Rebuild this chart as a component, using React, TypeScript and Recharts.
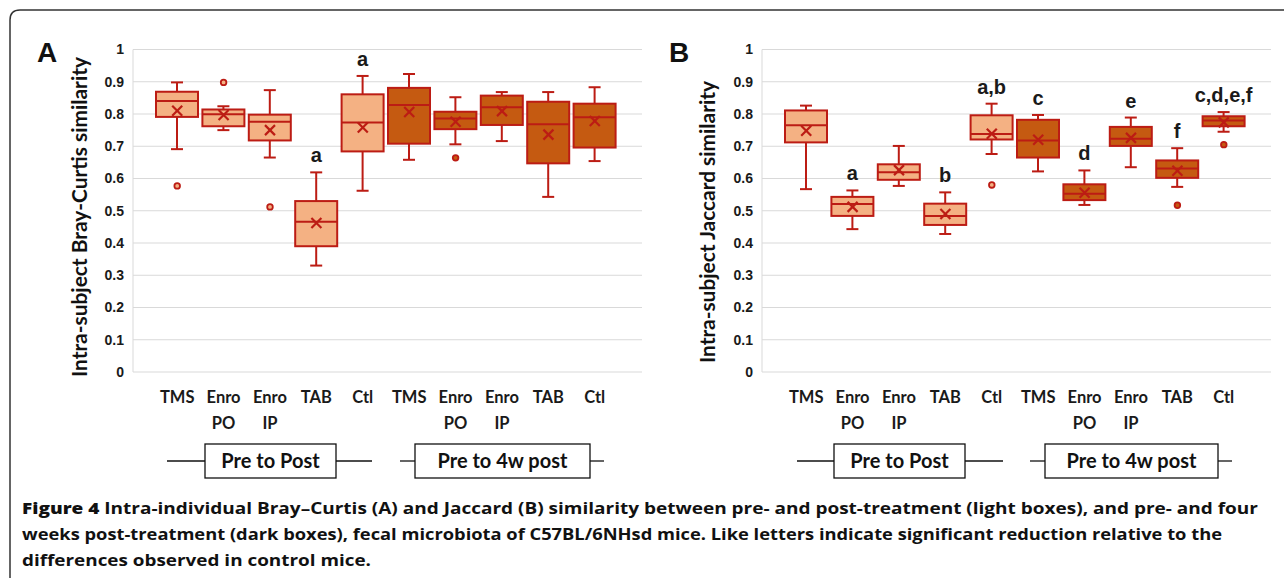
import { Bar, CartesianGrid, ComposedChart, Scatter, XAxis, YAxis } from 'recharts';

const categories = ['TMS', 'Enro PO', 'Enro IP', 'TAB', 'Ctl', 'TMS', 'Enro PO', 'Enro IP', 'TAB', 'Ctl'];
const yTicks = [0, 0.1, 0.2, 0.3, 0.4, 0.5, 0.6, 0.7, 0.8, 0.9, 1];

// A: Bray-Curtis (first five = pre to post, last five = pre to 4w post)
const bcMin = [0.691, 0.75, 0.665, 0.33, 0.562, 0.658, 0.706, 0.716, 0.543, 0.654];
const bcQ1 = [0.791, 0.762, 0.718, 0.39, 0.684, 0.708, 0.753, 0.766, 0.647, 0.696];
const bcMedian = [0.84, 0.799, 0.776, 0.466, 0.774, 0.828, 0.786, 0.821, 0.768, 0.79];
const bcQ3 = [0.869, 0.814, 0.798, 0.53, 0.861, 0.881, 0.807, 0.857, 0.838, 0.832];
const bcMax = [0.898, 0.824, 0.874, 0.619, 0.918, 0.924, 0.852, 0.868, 0.868, 0.883];
const bcMean = [0.81, 0.797, 0.75, 0.462, 0.758, 0.806, 0.776, 0.809, 0.736, 0.778];
const bcOutlier = [0.577, 0.898, 0.512, null, null, null, 0.664, null, null, null];
const bcLetters = ['', '', '', 'a', 'a', '', '', '', '', ''];

// B: Jaccard
const jcMin = [0.567, 0.443, 0.577, 0.428, 0.676, 0.622, 0.518, 0.635, 0.574, 0.745];
const jcQ1 = [0.712, 0.484, 0.596, 0.456, 0.721, 0.665, 0.533, 0.701, 0.602, 0.762];
const jcMedian = [0.765, 0.521, 0.619, 0.484, 0.738, 0.718, 0.553, 0.723, 0.631, 0.78];
const jcQ3 = [0.811, 0.543, 0.644, 0.522, 0.796, 0.782, 0.582, 0.76, 0.656, 0.793];
const jcMax = [0.826, 0.563, 0.701, 0.557, 0.832, 0.797, 0.625, 0.789, 0.694, 0.806];
const jcMean = [0.748, 0.512, 0.626, 0.49, 0.739, 0.72, 0.556, 0.726, 0.624, 0.774];
const jcOutlier = [null, null, null, null, 0.58, null, null, null, 0.517, 0.705];
const jcLetters = ['', 'a', '', 'b', 'a,b', 'c', 'd', 'e', 'f', 'c,d,e,f'];

const captionLines = [
  'Intra-individual Bray–Curtis (A) and Jaccard (B) similarity between pre- and post-treatment (light boxes), and pre- and four',
  'weeks post-treatment (dark boxes), fecal microbiota of C57BL/6NHsd mice. Like letters indicate significant reduction relative to the',
  'differences observed in control mice.',
];

const STROKE = '#BC1C14';
const LIGHT = '#F4B183';
const DARK = '#C55A11';

const buildRows = (
  min: number[], q1: number[], med: number[], q3: number[], max: number[],
  mean: number[], outlier: (number | null)[], letters: string[],
) =>
  categories.map((name, i) => ({
    key: `c${i}`,
    name,
    range: [min[i], max[i]],
    q1: q1[i],
    median: med[i],
    q3: q3[i],
    mean: mean[i],
    outlier: outlier[i],
    letter: letters[i],
    dark: i >= 5,
  }));

const bcData = buildRows(bcMin, bcQ1, bcMedian, bcQ3, bcMax, bcMean, bcOutlier, bcLetters);
const jcData = buildRows(jcMin, jcQ1, jcMedian, jcQ3, jcMax, jcMean, jcOutlier, jcLetters);

// box, whiskers and median are drawn from the range bar's own pixel extent
const BoxShape = (props: any) => {
  const { x, y, width, height, payload } = props;
  if (!payload) return null;
  const top = Math.min(y, y + height);
  const bottom = Math.max(y, y + height);
  const [lo, hi] = payload.range;
  const toPx = (v: number) => bottom - ((v - lo) / (hi - lo)) * (bottom - top);
  const cx = x + width / 2;
  const yq1 = toPx(payload.q1);
  const yq3 = toPx(payload.q3);
  const ymed = toPx(payload.median);
  return (
    <g>
      <line x1={cx} x2={cx} y1={top} y2={yq3} stroke={STROKE} strokeWidth={2} />
      <line x1={cx} x2={cx} y1={yq1} y2={bottom} stroke={STROKE} strokeWidth={2} />
      <line x1={cx - 6} x2={cx + 6} y1={top} y2={top} stroke={STROKE} strokeWidth={2} />
      <line x1={cx - 6} x2={cx + 6} y1={bottom} y2={bottom} stroke={STROKE} strokeWidth={2} />
      <rect
        x={x}
        y={yq3}
        width={width}
        height={yq1 - yq3}
        fill={payload.dark ? DARK : LIGHT}
        stroke={STROKE}
        strokeWidth={2}
      />
      <line x1={x} x2={x + width} y1={ymed} y2={ymed} stroke={STROKE} strokeWidth={2} />
      {payload.letter && (
        <text
          x={cx}
          y={top - 10}
          textAnchor="middle"
          fontFamily="Liberation Sans, Arial, sans-serif"
          fontWeight={700}
          fontSize={20}
          fill="#1a1a1a"
        >
          {payload.letter}
        </text>
      )}
    </g>
  );
};

const MeanShape = (props: any) => {
  const { cx, cy } = props;
  if (cx == null || cy == null || isNaN(cy)) return null;
  return (
    <g stroke={STROKE} strokeWidth={2.2}>
      <line x1={cx - 5} x2={cx + 5} y1={cy - 5} y2={cy + 5} />
      <line x1={cx - 5} x2={cx + 5} y1={cy + 5} y2={cy - 5} />
    </g>
  );
};

const OutlierShape = (props: any) => {
  const { cx, cy, payload } = props;
  if (!payload || payload.outlier == null || cy == null || isNaN(cy)) return null;
  return <circle cx={cx} cy={cy} r={2.8} fill={payload.dark ? DARK : LIGHT} stroke={STROKE} strokeWidth={1.8} />;
};

const CategoryTick = (props: any) => {
  const { x, y, payload } = props;
  const lines = categories[payload.index].split(' ');
  return (
    <text
      x={x}
      y={y}
      textAnchor="middle"
      fontFamily="Lato, sans-serif"
      fontWeight={700}
      fontSize={16.5}
      fill="#1a1a1a"
    >
      {lines.map((l: string, i: number) => (
        <tspan key={i} x={x} y={y + 29 + i * 26}>
          {l}
        </tspan>
      ))}
    </text>
  );
};

const Panel = ({ data }: { data: any[] }) => (
  <ComposedChart
    width={660}
    height={442}
    data={data}
    margin={{ top: 49.5, right: 18, bottom: 0, left: 73 }}
  >
    <CartesianGrid vertical={false} stroke="#D9D9D9" />
    <XAxis
      dataKey="key"
      interval={0}
      tick={<CategoryTick />}
      tickLine={false}
      axisLine={false}
      tickSize={0}
      height={70}
      padding={{ left: 21, right: 24 }}
    />
    <YAxis
      domain={[0, 1]}
      ticks={yTicks}
      width={60}
      tickLine={false}
      tickSize={0}
      tickMargin={9}
      axisLine={{ stroke: '#D9D9D9' }}
      tick={{ fontFamily: 'Liberation Sans, Arial, sans-serif', fontWeight: 700, fontSize: 14, fill: '#1a1a1a' }}
    />
    <Bar dataKey="range" barSize={42} shape={<BoxShape />} isAnimationActive={false} />
    <Scatter dataKey="mean" shape={<MeanShape />} isAnimationActive={false} />
    <Scatter dataKey="outlier" shape={<OutlierShape />} isAnimationActive={false} />
  </ComposedChart>
);

const GroupLabel = ({ x1, bx1, bx2, x2, label }: any) => (
  <g>
    <line x1={x1} x2={bx1} y1={461} y2={461} stroke="#111" strokeWidth={1.3} />
    <line x1={bx2} x2={x2} y1={461} y2={461} stroke="#111" strokeWidth={1.3} />
    <rect x={bx1} y={444} width={bx2 - bx1} height={34} fill="#fff" stroke="#111" strokeWidth={1.3} />
    <text
      x={(bx1 + bx2) / 2}
      y={468}
      textAnchor="middle"
      fontFamily="Lato, sans-serif"
      fontWeight={700}
      fontSize={20}
      fill="#111"
    >
      {label}
    </text>
  </g>
);

export default function App() {
  return (
    <div style={{ position: 'absolute', left: 0, top: 0, width: 1284, height: 578, background: '#fff', overflow: 'hidden' }}>
      <div style={{ position: 'absolute', left: 0, top: 0 }}>
        <Panel data={bcData} />
      </div>
      <div style={{ position: 'absolute', left: 629, top: 0 }}>
        <Panel data={jcData} />
      </div>
      <svg
        width={1284}
        height={578}
        style={{ position: 'absolute', left: 0, top: 0, pointerEvents: 'none' }}
      >
        <path d="M 10 578 L 10 20 Q 10 10 20 10 L 1284 10" fill="none" stroke="#333" strokeWidth={1.5} />
        <text x={37} y={62} fontFamily="Liberation Sans, Arial, sans-serif" fontWeight={700} fontSize={28} fill="#111">A</text>
        <text x={669} y={62} fontFamily="Liberation Sans, Arial, sans-serif" fontWeight={700} fontSize={28} fill="#111">B</text>
        <text
          transform="translate(79 217) rotate(-90)"
          textAnchor="middle"
          dominantBaseline="central"
          fontFamily="Lato, sans-serif"
          fontWeight={700}
          fontSize={20}
          textLength={320}
          lengthAdjust="spacingAndGlyphs"
          fill="#111"
        >
          Intra-subject Bray-Curtis similarity
        </text>
        <text
          transform="translate(707 222) rotate(-90)"
          textAnchor="middle"
          dominantBaseline="central"
          fontFamily="Lato, sans-serif"
          fontWeight={700}
          fontSize={20}
          textLength={282}
          lengthAdjust="spacingAndGlyphs"
          fill="#111"
        >
          Intra-subject Jaccard similarity
        </text>
        <GroupLabel x1={167} bx1={205} bx2={336} x2={372} label="Pre to Post" />
        <GroupLabel x1={400} bx1={415} bx2={590} x2={604} label="Pre to 4w post" />
        <GroupLabel x1={797} bx1={834} bx2={965} x2={1003} label="Pre to Post" />
        <GroupLabel x1={1030} bx1={1045} bx2={1218} x2={1232} label="Pre to 4w post" />
        <text
          x={22}
          y={514}
          fontFamily="Open Sans, sans-serif"
          fontWeight={700}
          fontSize={16.5}
          fill="#111"
          textLength={1236}
          lengthAdjust="spacingAndGlyphs"
        >
          <tspan fontWeight={800}>Figure 4</tspan>
          {'  ' + captionLines[0]}
        </text>
        <text
          x={22}
          y={540}
          fontFamily="Open Sans, sans-serif"
          fontWeight={700}
          fontSize={16.5}
          fill="#111"
          textLength={1200}
          lengthAdjust="spacingAndGlyphs"
        >
          {captionLines[1]}
        </text>
        <text
          x={22}
          y={566}
          fontFamily="Open Sans, sans-serif"
          fontWeight={700}
          fontSize={16.5}
          fill="#111"
          textLength={349}
          lengthAdjust="spacingAndGlyphs"
        >
          {captionLines[2]}
        </text>
      </svg>
    </div>
  );
}
